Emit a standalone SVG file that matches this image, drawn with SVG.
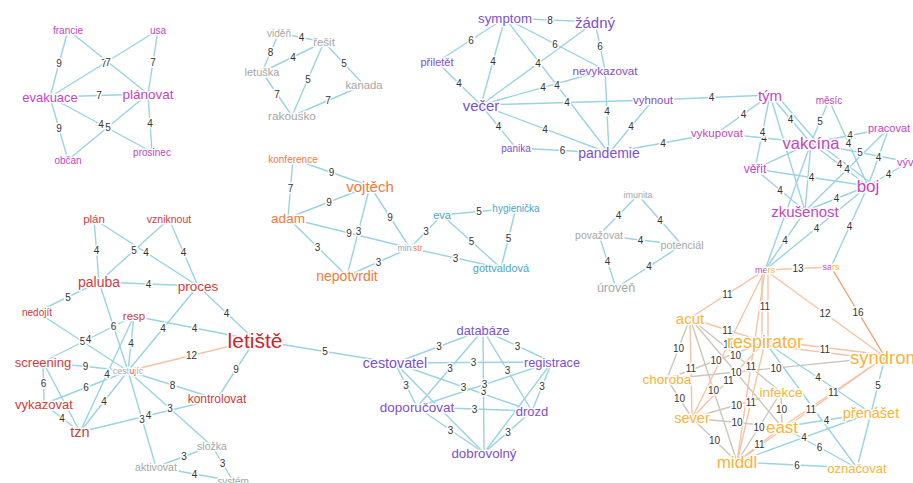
<svg xmlns="http://www.w3.org/2000/svg" width="913" height="483" viewBox="0 0 913 483">
<style>
.e line{stroke-width:1.4;fill:none}
.b{stroke:#9AD3E1}
.g{stroke:#CBC7BC}
.s{stroke:#F8C2A4}
.o{stroke:#F2A070}
.lb text{font-family:"Liberation Sans",Arial,sans-serif;font-size:10px;fill:#333;text-anchor:middle;dominant-baseline:central;stroke:#fff;stroke-width:3;paint-order:stroke}
.n text{font-family:"Liberation Sans",Arial,sans-serif;text-anchor:middle;dominant-baseline:central;stroke:#fff;stroke-width:3;paint-order:stroke;stroke-linejoin:round}
.m{fill:#C444C4}
.gr{fill:#A6A6A6}
.pu{fill:#7A4FD3}
.or{fill:#F7773A}
.te{fill:#4AA6CB}
.re{fill:#D43A3A}
.ye{fill:#FBB236}
</style>
<rect width="913" height="483" fill="#fff"/>
<g id="connectors" class="e">
<!-- A -->
<line class="b" x1="68" y1="30" x2="148" y2="94"/>
<line class="b" x1="158" y1="30" x2="50" y2="97"/>
<line class="b" x1="158" y1="30" x2="148" y2="94"/>
<line class="b" x1="50" y1="97" x2="148" y2="94"/>
<line class="b" x1="50" y1="97" x2="152" y2="152"/>
<line class="b" x1="148" y1="94" x2="68" y2="160"/>
<line class="b" x1="50" y1="97" x2="68" y2="160"/>
<line class="b" x1="148" y1="94" x2="152" y2="152"/>
<line class="b" x1="68" y1="30" x2="50" y2="97"/>
<!-- B -->
<line class="b" x1="279" y1="33" x2="324" y2="42"/>
<line class="b" x1="279" y1="33" x2="262" y2="72"/>
<line class="b" x1="262" y1="72" x2="324" y2="42"/>
<line class="b" x1="324" y1="42" x2="364" y2="85"/>
<line class="b" x1="324" y1="42" x2="292" y2="116"/>
<line class="b" x1="262" y1="72" x2="292" y2="116"/>
<line class="b" x1="292" y1="116" x2="364" y2="85"/>
<!-- C -->
<line class="b" x1="505" y1="18" x2="595" y2="22"/>
<line class="b" x1="505" y1="18" x2="437" y2="62"/>
<line class="b" x1="505" y1="18" x2="481" y2="105"/>
<line class="b" x1="595" y1="22" x2="481" y2="105"/>
<line class="b" x1="505" y1="18" x2="605" y2="70"/>
<line class="b" x1="595" y1="22" x2="605" y2="70"/>
<line class="b" x1="505" y1="18" x2="609" y2="153"/>
<line class="b" x1="437" y1="62" x2="481" y2="105"/>
<line class="b" x1="481" y1="105" x2="605" y2="70"/>
<line class="b" x1="481" y1="105" x2="653" y2="100"/>
<line class="b" x1="605" y1="70" x2="609" y2="153"/>
<line class="b" x1="653" y1="100" x2="609" y2="153"/>
<line class="b" x1="481" y1="105" x2="609" y2="153"/>
<line class="b" x1="481" y1="105" x2="516" y2="148"/>
<line class="b" x1="516" y1="148" x2="609" y2="153"/>
<line class="b" x1="653" y1="100" x2="770" y2="95"/>
<line class="b" x1="609" y1="153" x2="717" y2="133"/>
<!-- D -->
<line class="b" x1="717" y1="133" x2="770" y2="95"/>
<line class="b" x1="770" y1="95" x2="755" y2="169"/>
<line class="b" x1="717" y1="133" x2="811" y2="143"/>
<line class="b" x1="770" y1="95" x2="811" y2="143"/>
<line class="b" x1="774" y1="92" x2="815" y2="140"/>
<line class="b" x1="829" y1="100" x2="811" y2="143"/>
<line class="b" x1="889" y1="128" x2="811" y2="143"/>
<line class="b" x1="829" y1="100" x2="868" y2="186"/>
<line class="b" x1="811" y1="143" x2="909" y2="162"/>
<line class="b" x1="889" y1="128" x2="868" y2="186"/>
<line class="b" x1="811" y1="143" x2="868" y2="186"/>
<line class="b" x1="814" y1="140" x2="871" y2="183"/>
<line class="b" x1="889" y1="128" x2="805" y2="211"/>
<line class="b" x1="909" y1="162" x2="868" y2="186"/>
<line class="b" x1="755" y1="169" x2="868" y2="186"/>
<line class="b" x1="811" y1="143" x2="805" y2="211"/>
<line class="b" x1="755" y1="169" x2="805" y2="211"/>
<line class="b" x1="868" y1="186" x2="805" y2="211"/>
<line class="b" x1="770" y1="95" x2="805" y2="211"/>
<line class="b" x1="811" y1="143" x2="755" y2="169"/>
<line class="b" x1="805" y1="211" x2="765" y2="270"/>
<line class="b" x1="868" y1="186" x2="765" y2="270"/>
<line class="b" x1="868" y1="186" x2="831" y2="267"/>
<line class="b" x1="811" y1="143" x2="765" y2="270"/>
<!-- E/F -->
<line class="b" x1="293" y1="159" x2="370" y2="186"/>
<line class="b" x1="293" y1="159" x2="288" y2="218"/>
<line class="b" x1="288" y1="218" x2="370" y2="186"/>
<line class="b" x1="288" y1="218" x2="410" y2="248"/>
<line class="b" x1="370" y1="186" x2="347" y2="276"/>
<line class="b" x1="370" y1="186" x2="410" y2="248"/>
<line class="b" x1="288" y1="218" x2="347" y2="276"/>
<line class="b" x1="410" y1="248" x2="347" y2="276"/>
<line class="b" x1="410" y1="248" x2="442" y2="215"/>
<line class="b" x1="410" y1="248" x2="501" y2="268"/>
<line class="b" x1="442" y1="215" x2="516" y2="208"/>
<line class="b" x1="442" y1="215" x2="501" y2="268"/>
<line class="b" x1="516" y1="208" x2="501" y2="268"/>
<!-- G -->
<line class="b" x1="638" y1="195" x2="599" y2="235"/>
<line class="b" x1="638" y1="195" x2="682" y2="245"/>
<line class="b" x1="599" y1="235" x2="682" y2="245"/>
<line class="b" x1="599" y1="235" x2="616" y2="288"/>
<line class="b" x1="682" y1="245" x2="616" y2="288"/>
<!-- H -->
<line class="b" x1="94" y1="219" x2="99" y2="282"/>
<line class="b" x1="169" y1="219" x2="99" y2="282"/>
<line class="b" x1="94" y1="219" x2="198" y2="286"/>
<line class="b" x1="169" y1="219" x2="198" y2="286"/>
<line class="b" x1="99" y1="282" x2="198" y2="286"/>
<line class="b" x1="99" y1="282" x2="37" y2="312"/>
<line class="b" x1="198" y1="286" x2="255" y2="340"/>
<line class="b" x1="198" y1="286" x2="128" y2="371"/>
<line class="b" x1="134" y1="316" x2="255" y2="340"/>
<line class="b" x1="99" y1="282" x2="128" y2="371"/>
<line class="b" x1="37" y1="312" x2="128" y2="371"/>
<line class="b" x1="134" y1="316" x2="43" y2="362"/>
<line class="b" x1="134" y1="316" x2="128" y2="371"/>
<line class="b" x1="43" y1="362" x2="128" y2="371"/>
<line class="b" x1="43" y1="362" x2="44" y2="404"/>
<line class="b" x1="44" y1="404" x2="128" y2="371"/>
<line class="b" x1="134" y1="316" x2="80" y2="432"/>
<line class="b" x1="128" y1="371" x2="80" y2="432"/>
<line class="b" x1="44" y1="404" x2="80" y2="432"/>
<line class="b" x1="43" y1="362" x2="80" y2="432"/>
<line class="s" x1="255" y1="340" x2="128" y2="371"/>
<line class="b" x1="128" y1="371" x2="217" y2="399"/>
<line class="b" x1="255" y1="340" x2="217" y2="399"/>
<line class="b" x1="128" y1="371" x2="212" y2="446"/>
<line class="b" x1="128" y1="371" x2="156" y2="467"/>
<line class="b" x1="80" y1="432" x2="217" y2="399"/>
<line class="b" x1="156" y1="467" x2="212" y2="446"/>
<line class="b" x1="212" y1="446" x2="233" y2="481"/>
<line class="b" x1="156" y1="467" x2="233" y2="481"/>
<line class="b" x1="255" y1="340" x2="395" y2="363"/>
<!-- I -->
<line class="b" x1="395" y1="363" x2="483" y2="330"/>
<line class="b" x1="395" y1="363" x2="552" y2="362"/>
<line class="b" x1="483" y1="330" x2="417" y2="407"/>
<line class="b" x1="483" y1="330" x2="552" y2="362"/>
<line class="b" x1="483" y1="330" x2="532" y2="411"/>
<line class="b" x1="395" y1="363" x2="417" y2="407"/>
<line class="b" x1="395" y1="363" x2="532" y2="411"/>
<line class="b" x1="552" y1="362" x2="417" y2="407"/>
<line class="b" x1="483" y1="330" x2="484" y2="453"/>
<line class="b" x1="552" y1="362" x2="532" y2="411"/>
<line class="b" x1="417" y1="407" x2="532" y2="411"/>
<line class="b" x1="417" y1="407" x2="484" y2="453"/>
<line class="b" x1="532" y1="411" x2="484" y2="453"/>
<line class="b" x1="395" y1="363" x2="484" y2="453"/>
<line class="b" x1="552" y1="362" x2="484" y2="453"/>
<!-- J -->
<line class="s" x1="765" y1="270" x2="831" y2="267"/>
<line class="s" x1="765" y1="270" x2="690" y2="318"/>
<line class="s" x1="762" y1="270" x2="762" y2="342"/>
<line class="s" x1="768" y1="270" x2="768" y2="342"/>
<line class="s" x1="765" y1="270" x2="885" y2="357"/>
<line class="o" x1="831" y1="267" x2="885" y2="357"/>
<line class="s" x1="690" y1="318" x2="765" y2="342"/>
<line class="g" x1="690" y1="318" x2="667" y2="379"/>
<line class="s" x1="690" y1="318" x2="692" y2="418"/>
<line class="g" x1="667" y1="379" x2="765" y2="342"/>
<line class="g" x1="690" y1="318" x2="781" y2="392"/>
<line class="s" x1="765" y1="270" x2="737" y2="462"/>
<line class="g" x1="690" y1="318" x2="782" y2="427"/>
<line class="g" x1="667" y1="379" x2="885" y2="357"/>
<line class="s" x1="692" y1="418" x2="765" y2="342"/>
<line class="b" x1="765" y1="342" x2="871" y2="413"/>
<line class="g" x1="667" y1="379" x2="692" y2="418"/>
<line class="g" x1="690" y1="318" x2="737" y2="462"/>
<line class="s" x1="885" y1="357" x2="782" y2="427"/>
<line class="g" x1="692" y1="418" x2="781" y2="392"/>
<line class="s" x1="765" y1="342" x2="737" y2="462"/>
<line class="g" x1="781" y1="392" x2="782" y2="427"/>
<line class="s" x1="885" y1="357" x2="737" y2="462"/>
<line class="b" x1="765" y1="342" x2="857" y2="468"/>
<line class="g" x1="692" y1="418" x2="782" y2="427"/>
<line class="g" x1="781" y1="392" x2="737" y2="462"/>
<line class="b" x1="782" y1="427" x2="871" y2="413"/>
<line class="g" x1="692" y1="418" x2="737" y2="462"/>
<line class="s" x1="737" y1="462" x2="782" y2="427"/>
<line class="b" x1="737" y1="462" x2="871" y2="413"/>
<line class="b" x1="782" y1="427" x2="857" y2="468"/>
<line class="b" x1="737" y1="462" x2="857" y2="468"/>
<line class="b" x1="885" y1="357" x2="871" y2="413"/>
<line class="b" x1="871" y1="413" x2="857" y2="468"/>
<line class="s" x1="765" y1="270" x2="692" y2="418"/>
<line class="s" x1="765" y1="340" x2="885" y2="355"/>
<line class="s" x1="765" y1="345" x2="885" y2="360"/>
</g>
<g id="edge-labels" class="lb">
<text x="104" y="63.5">7</text><text x="108" y="62">7</text><text x="153" y="62">7</text><text x="99" y="95.5">7</text><text x="101" y="124.5">4</text><text x="108" y="127">5</text><text x="59" y="128.5">9</text><text x="150" y="123">4</text><text x="59" y="63.5">9</text>
<text x="301.5" y="37.5">4</text><text x="270.5" y="52.5">8</text><text x="293" y="57">4</text><text x="344" y="63.5">5</text><text x="308" y="79">5</text><text x="277" y="94">7</text><text x="328" y="100.5">7</text>
<text x="550" y="20">8</text><text x="471" y="40">6</text><text x="493" y="61.5">4</text><text x="538" y="63.5">4</text><text x="555" y="44">6</text><text x="600" y="46">6</text><text x="557" y="85.5">4</text><text x="459" y="83.5">4</text><text x="543" y="87.5">4</text><text x="567" y="102.5">4</text><text x="607" y="111.5">4</text><text x="631" y="126.5">4</text><text x="545" y="129">4</text><text x="498.5" y="126.5">4</text><text x="562.5" y="150.5">6</text><text x="711.5" y="97.5">4</text><text x="663" y="143">4</text>
<text x="743.5" y="114">4</text><text x="764" y="138">4</text><text x="762.5" y="132">4</text><text x="790.5" y="119">4</text><text x="820" y="121.5">5</text><text x="850" y="135.5">4</text><text x="848.5" y="143">4</text><text x="860" y="152.5">5</text><text x="878.5" y="157">4</text><text x="839.5" y="164.5">4</text><text x="847" y="169.5">4</text><text x="888.5" y="174">4</text><text x="811.5" y="177.5">4</text><text x="780" y="190">4</text><text x="836.5" y="198.5">4</text><text x="785" y="240.5">4</text><text x="816.5" y="228">4</text><text x="849.5" y="226.5">4</text>
<text x="331.5" y="172.5">9</text><text x="290.5" y="188.5">7</text><text x="329" y="202">9</text><text x="349" y="233">9</text><text x="358.5" y="231">3</text><text x="390" y="217">9</text><text x="317.5" y="247">3</text><text x="378.5" y="262">3</text><text x="426" y="231.5">3</text><text x="455.5" y="258">3</text>
<text x="479" y="211.5">5</text><text x="471.5" y="241.5">5</text><text x="508.5" y="238">5</text>
<text x="618.5" y="215">4</text><text x="660" y="220">4</text><text x="640.5" y="240">4</text><text x="607.5" y="261.5">4</text><text x="649" y="266.5">4</text>
<text x="96.5" y="250.5">4</text><text x="134" y="250.5">5</text><text x="146" y="252.5">4</text><text x="183.5" y="252.5">4</text><text x="148.5" y="284">4</text><text x="68" y="297">5</text><text x="226.5" y="313">4</text><text x="163" y="328.5">4</text><text x="194.5" y="328">4</text><text x="113.5" y="326.5">6</text><text x="82.5" y="341.5">5</text><text x="88.5" y="339">4</text><text x="131" y="343.5">4</text><text x="85.5" y="366.5">9</text><text x="43.5" y="383">6</text><text x="86" y="387.5">6</text><text x="107" y="374">4</text><text x="104" y="401.5">4</text><text x="62" y="418">4</text><text x="191.5" y="355.5">12</text><text x="172.5" y="385">8</text><text x="236" y="369.5">9</text><text x="170" y="408.5">3</text><text x="142" y="419">3</text><text x="148.5" y="415.5">4</text><text x="184" y="456.5">3</text><text x="222.5" y="463.5">3</text><text x="194.5" y="474">4</text><text x="325" y="351.5">5</text>
<text x="439" y="346.5">3</text><text x="473.5" y="362.5">3</text><text x="450" y="368.5">3</text><text x="517.5" y="346">3</text><text x="507.5" y="370.5">3</text><text x="406" y="385">3</text><text x="463.5" y="387">3</text><text x="483.5" y="391.5">3</text><text x="484.5" y="384.5">3</text><text x="542" y="386.5">3</text><text x="474.5" y="409">3</text><text x="450.5" y="430">3</text><text x="508" y="432">3</text>
<text x="798" y="268.5">13</text><text x="727.5" y="294">11</text><text x="765" y="306">11</text><text x="825" y="313.5">12</text><text x="858" y="312">16</text><text x="728.5" y="344">11</text><text x="727.5" y="330">11</text><text x="678.5" y="348.5">10</text><text x="691" y="368">11</text><text x="716" y="360.5">10</text><text x="735.5" y="355">10</text><text x="751" y="366">11</text><text x="736" y="372.5">10</text><text x="776" y="368">10</text><text x="728.5" y="380">11</text><text x="818" y="377.5">4</text><text x="679.5" y="398.5">10</text><text x="713.5" y="390">10</text><text x="833.5" y="392">11</text><text x="736.5" y="405">10</text><text x="751" y="402">11</text><text x="781.5" y="409.5">10</text><text x="811" y="409.5">11</text><text x="737" y="422.5">10</text><text x="759" y="427">10</text><text x="826.5" y="420">4</text><text x="714.5" y="440">10</text><text x="759.5" y="444.5">11</text><text x="804" y="437.5">4</text><text x="819.5" y="447.5">6</text><text x="797" y="465">6</text><text x="878" y="385">5</text><text x="825" y="349.5">11</text>
</g>
<g id="n-francie" class="n"><text class="m" x="68" y="30" font-size="10">francie</text></g>
<g id="n-usa" class="n"><text class="m" x="158" y="30" font-size="10">usa</text></g>
<g id="n-evakuace" class="n"><text class="m" x="50" y="97" font-size="13">evakuace</text></g>
<g id="n-planovat" class="n"><text class="m" x="148" y="94" font-size="13.5">plánovat</text></g>
<g id="n-obcan" class="n"><text class="m" x="68" y="160" font-size="10">občan</text></g>
<g id="n-prosinec" class="n"><text class="m" x="152" y="152" font-size="10">prosinec</text></g>
<g id="n-viden" class="n"><text class="gr" x="279" y="33" font-size="10">viděň</text></g>
<g id="n-resit" class="n"><text class="gr" x="324" y="42" font-size="11.5">řešit</text></g>
<g id="n-letuska" class="n"><text class="gr" x="262" y="72" font-size="11">letuška</text></g>
<g id="n-kanada" class="n"><text class="gr" x="364" y="85" font-size="11.3">kanada</text></g>
<g id="n-rakousko" class="n"><text class="gr" x="292" y="116" font-size="11.8">rakousko</text></g>
<g id="n-symptom" class="n"><text class="pu" x="505" y="18" font-size="13.3">symptom</text></g>
<g id="n-zadny" class="n"><text class="pu" x="595" y="22" font-size="15">žádný</text></g>
<g id="n-priletet" class="n"><text class="pu" x="437" y="62" font-size="11">přiletět</text></g>
<g id="n-nevykazovat" class="n"><text class="pu" x="605" y="70" font-size="11.7">nevykazovat</text></g>
<g id="n-vecer" class="n"><text class="pu" x="481" y="105" font-size="15">večer</text></g>
<g id="n-vyhnout" class="n"><text class="pu" x="653" y="100" font-size="11.4">vyhnout</text></g>
<g id="n-panika" class="n"><text class="pu" x="516" y="148" font-size="10">panika</text></g>
<g id="n-pandemie" class="n"><text class="pu" x="609" y="153" font-size="14">pandemie</text></g>
<g id="n-tym" class="n"><text class="m" x="770" y="95" font-size="15">tým</text></g>
<g id="n-mesic" class="n"><text class="m" x="829" y="100" font-size="10">měsíc</text></g>
<g id="n-vykupovat" class="n"><text class="m" x="717" y="133" font-size="11.5">vykupovat</text></g>
<g id="n-vakcina" class="n"><text class="m" x="811" y="143" font-size="16.5">vakcína</text></g>
<g id="n-pracovat" class="n"><text class="m" x="889" y="128" font-size="11">pracovat</text></g>
<g id="n-vyvoj" class="n"><text class="m" x="897" y="162" font-size="11" text-anchor="start" style="text-anchor:start">vývoj</text></g>
<g id="n-verit" class="n"><text class="m" x="755" y="169" font-size="12">věřit</text></g>
<g id="n-boj" class="n"><text class="m" x="868" y="186" font-size="17">boj</text></g>
<g id="n-zkusenost" class="n"><text class="m" x="805" y="211" font-size="15">zkušenost</text></g>
<g id="n-konference" class="n"><text class="or" x="293" y="159" font-size="10">konference</text></g>
<g id="n-vojtech" class="n"><text class="or" x="370" y="186" font-size="15">vojtěch</text></g>
<g id="n-adam" class="n"><text class="or" x="288" y="218" font-size="13.5">adam</text></g>
<g id="n-nepotvrdit" class="n"><text class="or" x="347" y="276" font-size="14">nepotvrdit</text></g>
<g id="n-ministr" class="n"><text x="410" y="248" font-size="8.5" fill="#F0804A"><tspan fill="#86A8C8">mini</tspan>str</text></g>
<g id="n-eva" class="n"><text class="te" x="442" y="215" font-size="11">eva</text></g>
<g id="n-hygienicka" class="n"><text class="te" x="516" y="208" font-size="10">hygienička</text></g>
<g id="n-gottvaldova" class="n"><text class="te" x="501" y="268" font-size="11">gottvaldová</text></g>
<g id="n-imunita" class="n"><text class="gr" x="638" y="195" font-size="9">imunita</text></g>
<g id="n-povazovat" class="n"><text class="gr" x="599" y="235" font-size="10.5">považovat</text></g>
<g id="n-potencial" class="n"><text class="gr" x="682" y="245" font-size="10.8">potenciál</text></g>
<g id="n-uroven" class="n"><text class="gr" x="616" y="288" font-size="12.5">úroveň</text></g>
<g id="n-plan" class="n"><text class="re" x="94" y="219" font-size="11.5">plán</text></g>
<g id="n-vzniknout" class="n"><text class="re" x="169" y="219" font-size="10.5">vzniknout</text></g>
<g id="n-paluba" class="n"><text class="re" x="99" y="282" font-size="14">paluba</text></g>
<g id="n-proces" class="n"><text class="re" x="198" y="286" font-size="13.5">proces</text></g>
<g id="n-nedojit" class="n"><text class="re" x="37" y="312" font-size="10">nedojít</text></g>
<g id="n-resp" class="n"><text class="re" x="134" y="316" font-size="11.5">resp</text></g>
<g id="n-letiste" class="n"><text x="255" y="340" font-size="21" fill="#C8262C">letiště</text></g>
<g id="n-screening" class="n"><text class="re" x="43" y="362" font-size="13">screening</text></g>
<g id="n-cestujic" class="n"><text class="gr" x="128" y="371" font-size="9">cest<tspan fill="#D65A5A">uj</tspan>íc</text></g>
<g id="n-vykazovat" class="n"><text class="re" x="44" y="404" font-size="13">vykazovat</text></g>
<g id="n-kontrolovat" class="n"><text class="re" x="217" y="399" font-size="12">kontrolovat</text></g>
<g id="n-tzn" class="n"><text class="re" x="80" y="432" font-size="14.5">tzn</text></g>
<g id="n-slozka" class="n"><text class="gr" x="212" y="446" font-size="10.6">složka</text></g>
<g id="n-aktivovat" class="n"><text class="gr" x="156" y="467" font-size="10.6">aktivovat</text></g>
<g id="n-system" class="n"><text class="gr" x="233" y="481" font-size="10">systém</text></g>
<g id="n-cestovatel" class="n"><text class="pu" x="395" y="363" font-size="14.3">cestovatel</text></g>
<g id="n-databaze" class="n"><text class="pu" x="483" y="330" font-size="12.9">databáze</text></g>
<g id="n-registrace" class="n"><text class="pu" x="552" y="362" font-size="12.8">registrace</text></g>
<g id="n-doporucovat" class="n"><text class="pu" x="417" y="407" font-size="13.5">doporučovat</text></g>
<g id="n-drozd" class="n"><text class="pu" x="532" y="411" font-size="13">drozd</text></g>
<g id="n-dobrovolny" class="n"><text class="pu" x="484" y="453" font-size="13.3">dobrovolný</text></g>
<g id="n-mers" class="n"><text class="ye" x="765" y="270" font-size="9"><tspan fill="#C444C4">me</tspan>rs</text></g>
<g id="n-sars" class="n"><text class="ye" x="831" y="267" font-size="9"><tspan fill="#C444C4">sa</tspan>rs</text></g>
<g id="n-acut" class="n"><text class="ye" x="690" y="318" font-size="15">acut</text></g>
<g id="n-respirator" class="n"><text class="ye" x="765" y="342" font-size="18">respirator</text></g>
<g id="n-syndrom" class="n"><text class="ye" x="850" y="357" font-size="18.5" style="text-anchor:start">syndrom</text></g>
<g id="n-choroba" class="n"><text class="ye" x="667" y="379" font-size="13.5">choroba</text></g>
<g id="n-infekce" class="n"><text class="ye" x="781" y="392" font-size="13.5">infekce</text></g>
<g id="n-sever" class="n"><text class="ye" x="692" y="418" font-size="14.5">sever</text></g>
<g id="n-prenaset" class="n"><text class="ye" x="871" y="413" font-size="14.5">přenášet</text></g>
<g id="n-east" class="n"><text class="ye" x="782" y="427" font-size="17">east</text></g>
<g id="n-middl" class="n"><text class="ye" x="737" y="462" font-size="17">middl</text></g>
<g id="n-oznacovat" class="n"><text class="ye" x="857" y="468" font-size="13">označovat</text></g>
</svg>
